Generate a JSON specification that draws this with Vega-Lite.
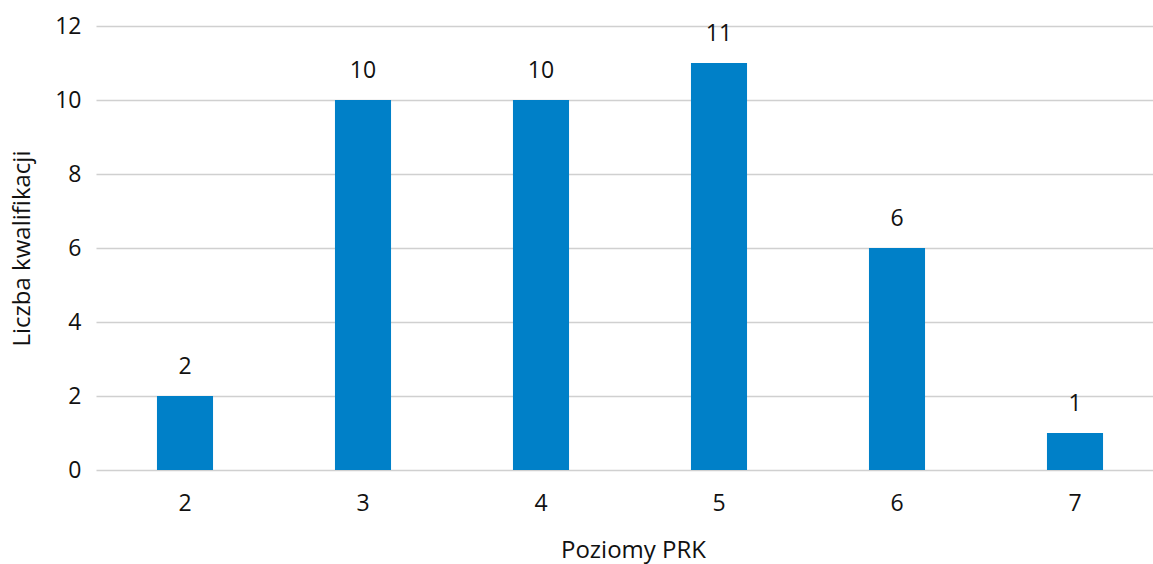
{
  "$schema": "https://vega.github.io/schema/vega-lite/v6.json",
  "autosize": "none",
  "width": 1068,
  "height": 444,
  "padding": {"left": 96, "top": 26, "right": 0, "bottom": 94},
  "background": "white",
  "config": {
    "font": "Open Sans",
    "view": {"stroke": null}
  },
  "data": {
    "values": [
      {"poziom": "2", "liczba": 2},
      {"poziom": "3", "liczba": 10},
      {"poziom": "4", "liczba": 10},
      {"poziom": "5", "liczba": 11},
      {"poziom": "6", "liczba": 6},
      {"poziom": "7", "liczba": 1}
    ]
  },
  "encoding": {
    "x": {
      "field": "poziom",
      "type": "ordinal",
      "scale": {"paddingInner": 0.685, "paddingOuter": 0.3425},
      "axis": {
        "title": "Poziomy PRK",
        "labelAngle": 0,
        "labelFontSize": 23,
        "labelColor": "#111111",
        "labelPadding": 22,
        "ticks": false,
        "domain": false,
        "titleFontSize": 24,
        "titleFontWeight": "normal",
        "titleColor": "#111111",
        "titlePadding": 23,
        "titleX": 537,
        "titleAnchor": "middle"
      }
    },
    "y": {
      "field": "liczba",
      "type": "quantitative",
      "scale": {"domain": [0, 12], "nice": false},
      "axis": {
        "title": "Liczba kwalifikacji",
        "values": [0, 2, 4, 6, 8, 10, 12],
        "labelFontSize": 23,
        "labelColor": "#111111",
        "labelPadding": 15,
        "ticks": false,
        "domain": false,
        "gridColor": "#d0d0d0",
        "gridWidth": 1.5,
        "titleFontSize": 24,
        "titleFontWeight": "normal",
        "titleColor": "#111111",
        "titlePadding": 20
      }
    }
  },
  "layer": [
    {"mark": {"type": "bar", "color": "#0080C8"}},
    {
      "mark": {"type": "text", "fontSize": 23, "color": "#111111", "baseline": "alphabetic", "dy": -22},
      "encoding": {"text": {"field": "liczba", "type": "quantitative"}}
    }
  ]
}
